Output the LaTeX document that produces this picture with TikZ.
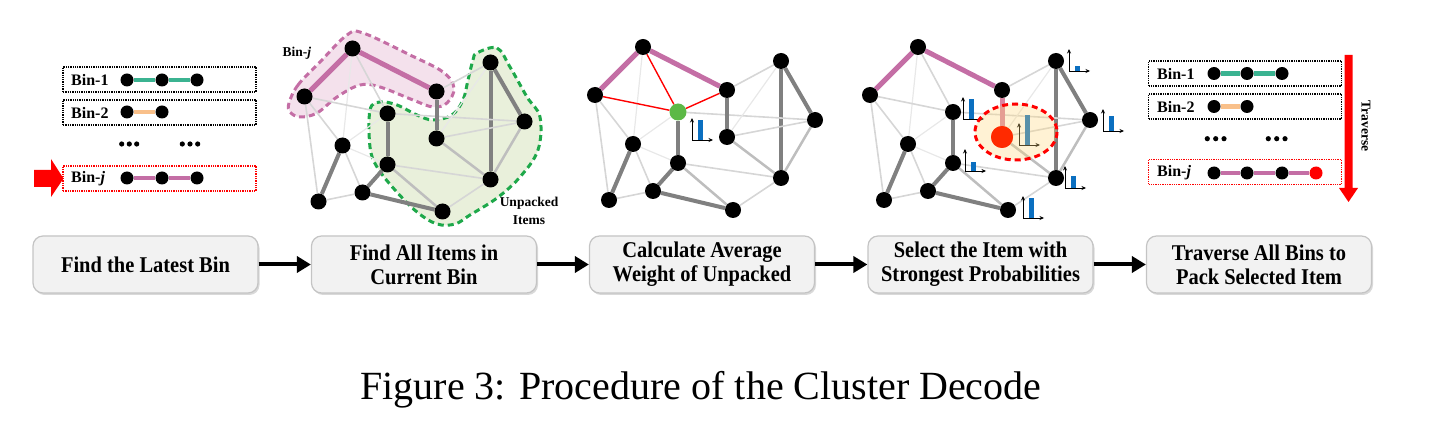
\documentclass[tikz,border=0pt]{standalone}
\usepackage{fontspec}
\setmainfont{Liberation Serif}
\newfontfamily\boxfont{Liberation Serif}[FakeStretch=0.91]
\usetikzlibrary{arrows.meta,shadows}
\definecolor{binpurple}{HTML}{C46EA5}
\definecolor{bingreen}{HTML}{3BB391}
\definecolor{binorange}{HTML}{F9C08A}
\definecolor{thickgray}{HTML}{808080}
\definecolor{midgray}{HTML}{BEBEBE}
\definecolor{lightgrayB}{HTML}{D6D6D6}
\definecolor{vlightgray}{HTML}{E8E8E8}
\definecolor{barblue}{HTML}{0B6FC0}
\definecolor{boxfill}{HTML}{F2F2F2}
\definecolor{boxborder}{HTML}{C4C4C4}
\definecolor{regpurple}{HTML}{F2DCE9}
\definecolor{reggreen}{HTML}{E9F0DB}
\definecolor{reggreenline}{HTML}{1EA84A}
\definecolor{selnode}{HTML}{FF2A00}
\definecolor{avgnode}{HTML}{5CB946}
\definecolor{ellfill}{HTML}{FFD77A}
\definecolor{pinkedge}{HTML}{D9849F}
\pgfdeclarelayer{back}
\pgfdeclarelayer{edges}
\pgfsetlayers{back,edges,main}
\tikzset{
  gnode/.style={circle, fill=black, inner sep=0pt, minimum size=16pt},
  gnodeavg/.style={circle, fill=avgnode, inner sep=0pt, minimum size=17pt},
  gnodesel/.style={circle, fill=selnode, inner sep=0pt, minimum size=22pt},
  binnode/.style={circle, fill=black, inner sep=0pt, minimum size=13pt},
  binnodesel/.style={circle, fill=red, inner sep=0pt, minimum size=13pt},
  thickE/.style={draw=thickgray, line width=4pt},
  midE/.style={draw=midgray, line width=2.5pt},
  lightE/.style={draw=lightgrayB, line width=1.6pt},
  vlightE/.style={draw=vlightgray, line width=1.2pt},
  binE/.style={draw=binpurple, line width=5pt},
  redE/.style={draw=red, line width=1.4pt},
  pinkE/.style={draw=pinkedge, line width=5pt},
  stepbox/.style={rectangle, rounded corners=10pt, draw=boxborder, line width=1.2pt,
    fill=boxfill, minimum width=225pt, minimum height=57pt, align=center,
    font=\boxfont\fontsize{22.5}{24}\selectfont\bfseries,
    drop shadow={opacity=0.3, shadow xshift=1.5pt, shadow yshift=-2pt}},
  flow/.style={line width=4pt, -{Triangle[length=14pt,width=16pt]}},
  binbox/.style={draw, densely dotted, line width=1.3pt, minimum width=193pt,
    minimum height=25pt, inner sep=0pt},
  binlabel/.style={anchor=west, font=\fontsize{16}{18}\selectfont\bfseries, inner sep=0pt},
  smalllabel/.style={font=\fontsize{13.5}{15}\selectfont\bfseries, inner sep=0pt, align=center},
  binline/.style={line width=4.5pt},
  axisarrow/.style={line width=0.8pt, -{Stealth[length=4.5pt,width=4pt]}},
}
\newcommand\mkgraph[5]{%
  \begin{scope}[shift={(#2,#3)}]
    \node[gnode] (#1A) at (643,47) {};
    \node[gnode] (#1B) at (595,95) {};
    \node[gnode] (#1C) at (727,90) {};
    \node[#4] (#1G) at (678,112) {};
    \node[#5] (#1D) at (727,137) {};
    \node[gnode] (#1E) at (633,144) {};
    \node[gnode] (#1F) at (678,163) {};
    \node[gnode] (#1I) at (653,191) {};
    \node[gnode] (#1H) at (609,200) {};
    \node[gnode] (#1J) at (733,210) {};
    \node[gnode] (#1K) at (781,61) {};
    \node[gnode] (#1L) at (815,120) {};
    \node[gnode] (#1M) at (781,178) {};
  \end{scope}
  \begin{pgfonlayer}{edges}
    \draw[thickE] (#1E) -- (#1H);
    \draw[thickE] (#1F) -- (#1I);
    \draw[thickE] (#1I) -- (#1J);
    \draw[thickE] (#1G) -- (#1F);
    \draw[thickE] (#1K) -- (#1L);
    \draw[thickE] (#1K) -- (#1M);
    \draw[midE] (#1L) -- (#1M);
    \draw[midE] (#1F) -- (#1J);
    \draw[midE] (#1D) -- (#1M);
    \draw[lightE] (#1B) -- (#1E);
    \draw[lightE] (#1B) -- (#1H);
    \draw[lightE] (#1H) -- (#1I);
    \draw[lightE] (#1E) -- (#1I);
    \draw[lightE] (#1C) -- (#1K);
    \draw[lightE] (#1G) -- (#1L);
    \draw[lightE] (#1D) -- (#1L);
    \draw[lightE] (#1F) -- (#1M);
    \draw[lightE] (#1J) -- (#1M);
    \draw[vlightE] (#1A) -- (#1E);
    \draw[vlightE] (#1E) -- (#1G);
    \draw[vlightE] (#1E) -- (#1F);
    \draw[vlightE] (#1K) -- (#1D);
    \draw[binE] (#1B) -- (#1A);
    \draw[binE] (#1A) -- (#1C);
  \end{pgfonlayer}}
\newcommand\baricon[4]{% x0, y0, bar height, name
  \coordinate (#4) at (#1,#2);
  \draw[axisarrow] (#4) -- ++(0,-22);
  \draw[axisarrow] (#4) -- ++(21,0);
  \fill[barblue] ({#1+6},#2) rectangle ({#1+11},{#2-#3});}
\begin{document}
\begin{tikzpicture}[x=1pt,y=-1pt]
\useasboundingbox (0,0) rectangle (1439,427);

% ---------- Panel 1 ----------
\node[binbox] (p1b1) at (159.5,79.5) {};
\node[binlabel] (p1l1) at (71,80) {Bin-1};
\node[binnode] (p1b1a) at (127,80) {};
\node[binnode] (p1b1b) at (162,80) {};
\node[binnode] (p1b1c) at (197,80) {};
\begin{pgfonlayer}{edges}
\draw[binline, bingreen] (p1b1a) -- (p1b1b) -- (p1b1c);
\end{pgfonlayer}
\node[binbox] (p1b2) at (159.5,112.5) {};
\node[binlabel] (p1l2) at (71,112.5) {Bin-2};
\node[binnode] (p1b2a) at (127,112) {};
\node[binnode] (p1b2b) at (162,112) {};
\begin{pgfonlayer}{edges}
\draw[binline, binorange] (p1b2a) -- (p1b2b);
\end{pgfonlayer}
\foreach \x in {121.7,129.3,136.7,182.3,190,197.7} \fill (\x,144) circle (2.6);
\node[binbox, draw=red] (p1bj) at (159.5,178.5) {};
\node[binlabel] (p1lj) at (71,178.5) {Bin-\textit{j}};
\node[binnode] (p1bja) at (127,178) {};
\node[binnode] (p1bjb) at (162,178) {};
\node[binnode] (p1bjc) at (197,178) {};
\begin{pgfonlayer}{edges}
\draw[binline, binpurple] (p1bja) -- (p1bjb) -- (p1bjc);
\end{pgfonlayer}
\fill[red] (34,170) -- (51,170) -- (51,159) -- (63.5,178.5) -- (51,197) -- (51,187) -- (34,187) -- cycle;

% ---------- Panel 2 ----------
\begin{pgfonlayer}{back}
\draw[reggreenline, fill=reggreen, line width=3pt, dash pattern=on 6pt off 4pt]
  plot[smooth cycle, tension=0.6] coordinates {
  (477,53) (497,48) (510,67) (527,97) (540,117) (538,150) (520,177) (497,198)
  (470,215) (455,224) (437,224) (417,212) (395,190) (377,167) (370,147)
  (370,110) (380,102) (397,105) (417,115) (433,120) (452,115) (463,100)
  (468,80) (473,60)};
\draw[binpurple, fill=regpurple, fill opacity=0.85, draw opacity=1, line width=3pt, dash pattern=on 6pt off 4pt]
  plot[smooth cycle, tension=0.6] coordinates {
  (289,103) (298,85) (320,62) (347,35) (363,33) (410,55) (443,72) (454,88)
  (447,103) (433,107) (413,100) (380,87) (360,85) (337,97) (317,113)
  (300,117) (290,112)};
\end{pgfonlayer}
\mkgraph{P}{-290.5}{1.5}{gnode}{gnode}
\begin{pgfonlayer}{edges}
\draw[lightE] (PA) -- (PG);
\draw[lightE] (PB) -- (PG);
\draw[thickE] (PC) -- (PD);
\end{pgfonlayer}
\node[smalllabel] (pbinj) at (297,53) {Bin-\textit{j}};
\node[smalllabel] (punp) at (529,203) {Unpacked};
\node[smalllabel] (pitems) at (529,220) {Items};

% ---------- Panel 3 ----------
\mkgraph{Q}{0}{0}{gnodeavg}{gnode}
\begin{pgfonlayer}{edges}
\draw[redE] (QA) -- (QG);
\draw[redE] (QB) -- (QG);
\draw[redE] (QC) -- (QG);
\draw[thickE] (QC) -- (QD);
\end{pgfonlayer}
\baricon{692}{140}{20}{qic}

% ---------- Panel 4 ----------
\mkgraph{R}{275}{0}{gnode}{gnodesel}
\begin{pgfonlayer}{edges}
\draw[lightE] (RA) -- (RG);
\draw[lightE] (RB) -- (RG);
\draw[pinkE] (RC) -- (RD);
\end{pgfonlayer}
\baricon{1069}{71}{5}{ric1}
\baricon{963}{119}{20}{ric2}
\baricon{1103}{131}{15}{ric3}
\baricon{965}{171}{9}{ric4}
\baricon{1065}{188}{12}{ric5}
\baricon{1023}{218}{20}{ric6}
\baricon{1019}{145}{30}{ric7}
\fill[ellfill, fill opacity=0.32] (1016,132) ellipse [x radius=41, y radius=28];
\fill[selnode] (RD.center) circle (11);
\draw[red, line width=3pt, dash pattern=on 6pt off 4pt] (1016,132) ellipse [x radius=41, y radius=28];

% ---------- Panel 5 ----------
\node[binbox] (s1) at (1245,73.5) {};
\node[binlabel] (s1l) at (1157,73.5) {Bin-1};
\node[binnode] (s1a) at (1214,73.5) {};
\node[binnode] (s1b) at (1247,73.5) {};
\node[binnode] (s1c) at (1282,73.5) {};
\begin{pgfonlayer}{edges}
\draw[binline, bingreen] (s1a) -- (s1b) -- (s1c);
\end{pgfonlayer}
\node[binbox] (s2) at (1245,106.5) {};
\node[binlabel] (s2l) at (1157,106.5) {Bin-2};
\node[binnode] (s2a) at (1214,106.5) {};
\node[binnode] (s2b) at (1247,106.5) {};
\begin{pgfonlayer}{edges}
\draw[binline, binorange] (s2a) -- (s2b);
\end{pgfonlayer}
\foreach \x in {1207.3,1215.7,1224,1268.3,1276.7,1285} \fill (\x,138.7) circle (2.6);
\node[binbox, draw=red] (sj) at (1245,172) {};
\node[binlabel] (sjl) at (1157,172.5) {Bin-\textit{j}};
\node[binnode] (sja) at (1214,173) {};
\node[binnode] (sjb) at (1247,173) {};
\node[binnode] (sjc) at (1282,173) {};
\node[binnodesel] (sjd) at (1316,173) {};
\begin{pgfonlayer}{edges}
\draw[binline, binpurple] (sja) -- (sjb) -- (sjc) -- (sjd);
\end{pgfonlayer}
\fill[red] (1344.5,55) -- (1352.5,55) -- (1352.5,188) -- (1358,188) -- (1348.5,202) -- (1339,188) -- (1344.5,188) -- cycle;
\node[rotate=-90, font=\fontsize{13.5}{16}\selectfont\bfseries, inner sep=0pt] (trav) at (1366,126) {Traverse};

% ---------- Steps ----------
\node[stepbox] (st1) at (145.5,264.5) {Find the Latest Bin};
\node[stepbox] (st2) at (424,264.5) {Find All Items in\\Current Bin};
\node[stepbox] (st3) at (702,264.5) {Calculate Average\\Weight of Unpacked};
\node[stepbox] (st4) at (980.5,264.5) {Select the Item with\\Strongest Probabilities};
\node[stepbox] (st5) at (1259,264.5) {Traverse All Bins to\\Pack Selected Item};
\draw[flow] (st1) -- (st2);
\draw[flow] (st2) -- (st3);
\draw[flow] (st3) -- (st4);
\draw[flow] (st4) -- (st5);

\node[anchor=base, font=\fontsize{40}{48}\selectfont, inner sep=0pt] (caption) at (701,399) {Figure 3: Procedure of the Cluster Decode};
\end{tikzpicture}
\end{document}
